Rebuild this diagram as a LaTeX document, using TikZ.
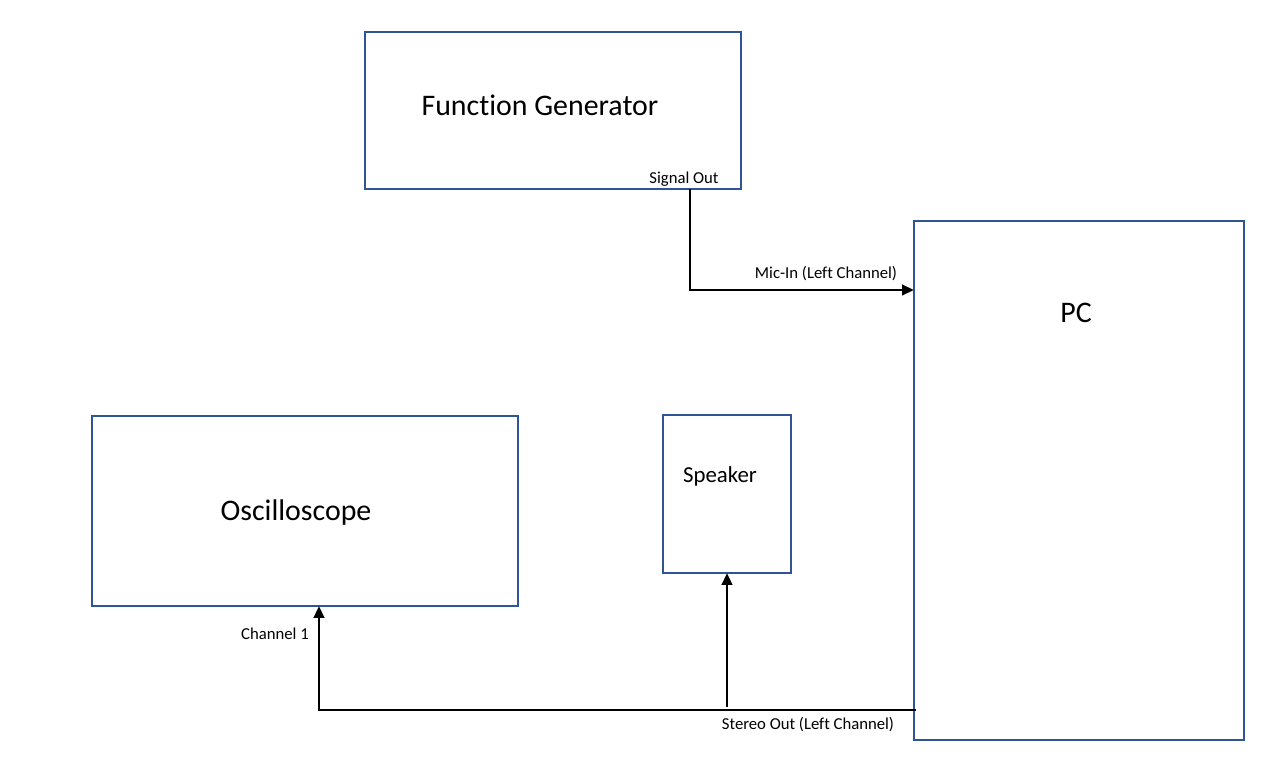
\documentclass[tikz,border=0pt]{standalone}
\usepackage{fontspec}
\setmainfont{Carlito}[Ligatures=NoCommon]
\usetikzlibrary{calc}
\usetikzlibrary{arrows.meta}

\definecolor{boxblue}{HTML}{2F5597}

\begin{document}
\begin{tikzpicture}[>={Stealth[length=2.4mm,width=2.1mm,inset=0pt]},
        device/.style={draw=boxblue,line width=1.1pt,rectangle,inner sep=0pt,outer sep=0pt},
        wire/.style={black,line width=1.5pt},
        big/.style={font=\fontsize{17}{20}\selectfont},
        small/.style={font=\fontsize{9.5}{11}\selectfont,inner sep=1pt}]
                        \useasboundingbox (0,0) rectangle (25.62,15.24);
                        \node[device,minimum width=7.52cm,minimum height=3.14cm] (fg) at (11.06,13.03) {};
                        \node[device,minimum width=6.6cm,minimum height=10.38cm] (pc) at (21.58,5.63) {};
                        \node[device,minimum width=8.52cm,minimum height=3.8cm] (osc) at (6.1,5.02) {};
                        \node[device,minimum width=2.56cm,minimum height=3.16cm] (spk) at (14.54,5.36) {};
                        \node[big] (fglabel) at (10.8,13.14) {Function Generator};
                        \node[big] (pclabel) at (21.52,8.98) {PC};
                        \node[big] (osclabel) at (5.92,4.98) {Oscilloscope};
                        \node[font=\fontsize{13}{15}\selectfont] (spklabel) at (14.4,5.72) {Speaker};
                        \node[small] (sigout) at (13.68,11.66) {Signal Out};
                        \node[small] (micin) at (16.52,9.76) {Mic-In (Left Channel)};
                        \node[small] (ch1) at (5.5,2.56) {Channel 1};
                        \node[small] (stereo) at (16.16,0.74) {Stereo Out (Left Channel)};
                        \coordinate (fgout) at (13.8,11.46);
                        \coordinate (pcin) at (18.28,9.44);
                        \coordinate (pcout) at (18.32,1.04);
                        \coordinate (spkin) at (14.54,1.1);
                        \draw[wire,->] (fgout) |- (pcin);
                        \draw[wire,->] (pcout) -| ([xshift=0.28cm]osc.south);
                        \draw[wire,->] (spkin) -- (spk.south);
                    \end{tikzpicture}
\end{document}
